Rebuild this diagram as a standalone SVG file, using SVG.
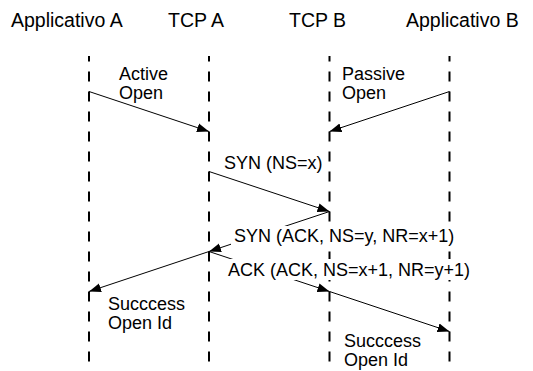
<svg xmlns="http://www.w3.org/2000/svg" width="533" height="371" viewBox="0 0 533 371">
<style>
  text { font-family: "Liberation Sans", Arial, Helvetica, sans-serif; fill: #000; }
  .hdr { font-size: 19.5px; }
  .lbl { font-size: 18px; }
  .life { stroke: #000; stroke-width: 2; stroke-dasharray: 10 10; stroke-dashoffset: 4.5; fill: none; }
  .msg { stroke: #000; stroke-width: 1; fill: none; marker-end: url(#arrow); }
  .bg { fill: #fff; }
</style>
<defs>
  <marker id="arrow" markerUnits="userSpaceOnUse" markerWidth="13" markerHeight="10" viewBox="0 0 13 10" refX="12" refY="5" orient="auto">
    <path d="M0,0.5 L12,5 L0,9.5 z" fill="#000"/>
  </marker>
</defs>
<rect width="533" height="371" fill="#fff"/>
<g id="appA">
  <text class="hdr" x="11" y="27">Applicativo A</text>
  <line class="life" x1="89" y1="56" x2="89" y2="361.5"/>
</g>
<g id="tcpA">
  <text class="hdr" x="168" y="27">TCP A</text>
  <line class="life" x1="209" y1="56" x2="209" y2="361.5"/>
</g>
<g id="tcpB">
  <text class="hdr" x="289" y="27">TCP B</text>
  <line class="life" x1="329.5" y1="56" x2="329.5" y2="361.5"/>
</g>
<g id="appB">
  <text class="hdr" x="406" y="27">Applicativo B</text>
  <line class="life" x1="449.5" y1="56" x2="449.5" y2="361.5"/>
</g>
<g id="connectors">
  <line id="m1" class="msg" x1="89" y1="91.5" x2="209" y2="131.5"/>
  <line id="m2" class="msg" x1="449.5" y1="91.5" x2="329.5" y2="131.5"/>
  <line id="m3" class="msg" x1="209" y1="171.5" x2="329.5" y2="211.5"/>
  <line id="m4" class="msg" x1="329.5" y1="211.5" x2="209" y2="251.5"/>
  <line id="m5" class="msg" x1="209" y1="251.5" x2="329.5" y2="291.5"/>
  <line id="m6" class="msg" x1="209" y1="251.5" x2="89" y2="291.5"/>
  <line id="m7" class="msg" x1="329.5" y1="291.5" x2="449.5" y2="331.5"/>
</g>
<g id="lbl-active">
  <text class="lbl" x="119" y="80">Active</text>
  <text class="lbl" x="119" y="99">Open</text>
</g>
<g id="lbl-passive">
  <text class="lbl" x="342" y="80">Passive</text>
  <text class="lbl" x="342" y="99">Open</text>
</g>
<g id="lbl-syn">
  <text class="lbl" x="224" y="169">SYN (NS=x)</text>
</g>
<g id="lbl-synack">
  <rect class="bg" x="231" y="226" width="227" height="21"/>
  <text class="lbl" x="234" y="242">SYN (ACK, NS=y, NR=x+1)</text>
</g>
<g id="lbl-ack">
  <rect class="bg" x="228" y="259" width="238" height="21"/>
  <text class="lbl" x="228" y="275.5">ACK (ACK, NS=x+1, NR=y+1)</text>
</g>
<g id="lbl-successA">
  <text class="lbl" x="108" y="310">Succcess</text>
  <text class="lbl" x="108" y="329">Open Id</text>
</g>
<g id="lbl-successB">
  <text class="lbl" x="344" y="347">Succcess</text>
  <text class="lbl" x="344" y="366">Open Id</text>
</g>
</svg>
